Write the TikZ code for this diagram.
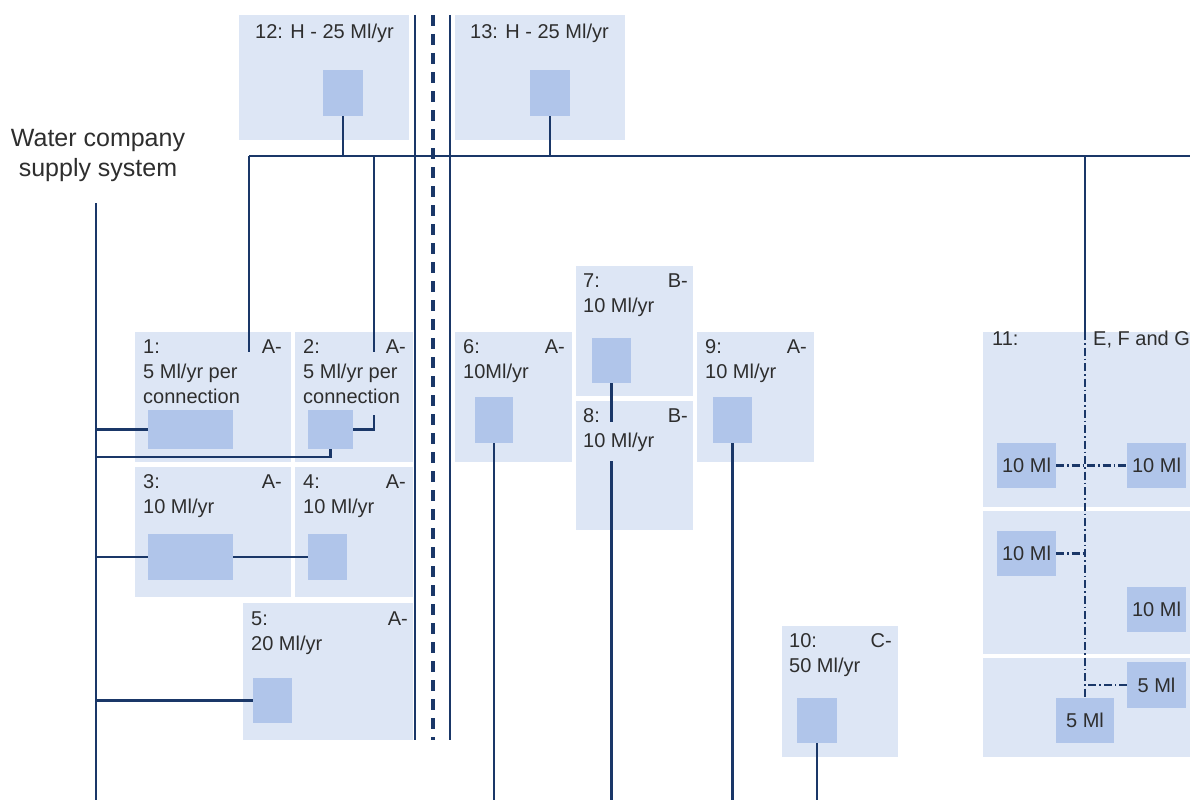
\documentclass[tikz,border=0pt]{standalone}
\usepackage{fontspec}
\setmainfont{Liberation Sans}
\definecolor{panelfill}{HTML}{DDE6F5}
\definecolor{tankfill}{HTML}{B0C5EA}
\definecolor{pipecol}{HTML}{1A3768}
\definecolor{txtcol}{HTML}{2E2E2E}
\begin{document}
\begin{tikzpicture}[x=1pt, y=-1pt,
  panel/.style={fill=panelfill, anchor=north west, inner sep=0pt, outer sep=0pt},
  tank/.style={fill=tankfill, inner sep=0pt, outer sep=0pt, text=txtcol, font=\fontsize{20}{24}\selectfont},
  num/.style={anchor=base west, inner sep=0pt, text=txtcol, font=\fontsize{20}{25}\selectfont},
  cls/.style={anchor=base east, inner sep=0pt, text=txtcol, font=\fontsize{20}{25}\selectfont},
  body/.style={anchor=north west, align=left, inner sep=0pt, text=txtcol, font=\fontsize{20}{25}\selectfont},
  pipe/.style={draw=pipecol, line width=2.4pt},
  dashpipe/.style={pipe, line width=2.2pt, dash pattern=on 8pt off 3pt on 1.5pt off 3pt},
  wall/.style={draw=pipecol, line width=2.5pt}]
\useasboundingbox (0,0) rectangle (1190,800);
\clip (0,0) rectangle (1190,800);

% panels
\node[panel, minimum width=170pt, minimum height=125pt] (p12) at (239,15) {};
\node[panel, minimum width=170pt, minimum height=125pt] (p13) at (455,15) {};
\node[panel, minimum width=156pt, minimum height=130pt] (p1) at (135,332) {};
\node[panel, minimum width=118pt, minimum height=130pt] (p2) at (295,332) {};
\node[panel, minimum width=156pt, minimum height=130pt] (p3) at (135,467) {};
\node[panel, minimum width=118pt, minimum height=130pt] (p4) at (295,467) {};
\node[panel, minimum width=170pt, minimum height=137pt] (p5) at (243,603) {};
\node[panel, minimum width=117pt, minimum height=130pt] (p6) at (455,332) {};
\node[panel, minimum width=117pt, minimum height=130pt] (p7) at (576,266) {};
\node[panel, minimum width=117pt, minimum height=129pt] (p8) at (576,401) {};
\node[panel, minimum width=117pt, minimum height=130pt] (p9) at (697,332) {};
\node[panel, minimum width=116pt, minimum height=131pt] (p10) at (782,626) {};
\node[panel, minimum width=220pt, minimum height=175pt] (p11a) at (983,332) {};
\node[panel, minimum width=220pt, minimum height=143pt] (p11b) at (983,511) {};
\node[panel, minimum width=220pt, minimum height=99pt] (p11c) at (983,658) {};

% panel texts
\node[num] (n12) at (255,38) {12: H - 25 Ml/yr};
\node[num] (n13) at (470,38) {13: H - 25 Ml/yr};
\node[num] (n1) at (143,353) {1:};  \node[cls] (c1) at (282,353) {A-};
\node[body] (b1) at (143,363.4) {5 Ml/yr per\\connection};
\node[num] (n2) at (303,353) {2:};  \node[cls] (c2) at (406,353) {A-};
\node[body] (b2) at (303,363.4) {5 Ml/yr per\\connection};
\node[num] (n3) at (143,488) {3:};  \node[cls] (c3) at (282,488) {A-};
\node[body] (b3) at (143,498.4) {10 Ml/yr};
\node[num] (n4) at (303,488) {4:};  \node[cls] (c4) at (406,488) {A-};
\node[body] (b4) at (303,498.4) {10 Ml/yr};
\node[num] (n5) at (251,625) {5:};  \node[cls] (c5) at (408,625) {A-};
\node[body] (b5) at (251,635.4) {20 Ml/yr};
\node[num] (n6) at (463,353) {6:};  \node[cls] (c6) at (565,353) {A-};
\node[body] (b6) at (463,363.4) {10Ml/yr};
\node[num] (n7) at (583,287) {7:};  \node[cls] (c7) at (688,287) {B-};
\node[body] (b7) at (583,297.4) {10 Ml/yr};
\node[num] (n8) at (583,422) {8:};  \node[cls] (c8) at (688,422) {B-};
\node[body] (b8) at (583,432.4) {10 Ml/yr};
\node[num] (n9) at (705,353) {9:};  \node[cls] (c9) at (807,353) {A-};
\node[body] (b9) at (705,363.4) {10 Ml/yr};
\node[num] (n10) at (789,647) {10:}; \node[cls] (c10) at (892,647) {C-};
\node[body] (b10) at (789,657.4) {50 Ml/yr};
\node[num] (n11) at (992,345) {11:};
\node[num] (c11) at (1093,345) {E, F and G};

% supply label
\node[anchor=north, align=center, inner sep=0pt, text=txtcol, font=\fontsize{25}{30}\selectfont] (src) at (98,129) {Water company\\supply system};

% tanks
\node[tank, minimum width=40pt, minimum height=46pt] (t12) at (343,93) {};
\node[tank, minimum width=40pt, minimum height=46pt] (t13) at (550,93) {};
\node[tank, minimum width=85pt, minimum height=39pt] (t1) at (190.5,429.5) {};
\node[tank, minimum width=45pt, minimum height=39pt] (t2) at (330.5,429.5) {};
\node[tank, minimum width=85pt, minimum height=46pt] (t3) at (190.5,557) {};
\node[tank, minimum width=39pt, minimum height=46pt] (t4) at (327.5,557) {};
\node[tank, minimum width=39pt, minimum height=45pt] (t5) at (272.5,700.5) {};
\node[tank, minimum width=38pt, minimum height=46pt] (t6) at (494,420) {};
\node[tank, minimum width=39pt, minimum height=45pt] (t7) at (611.5,360.5) {};
\node[tank, minimum width=39pt, minimum height=46pt] (t9) at (732.5,420) {};
\node[tank, minimum width=40pt, minimum height=45pt] (t10) at (817,720.5) {};
\node[tank, minimum width=59pt, minimum height=45pt] (t11a) at (1026.5,465.5) {10 Ml};
\node[tank, minimum width=59pt, minimum height=45pt] (t11b) at (1156.5,465.5) {10 Ml};
\node[tank, minimum width=59pt, minimum height=45pt] (t11c) at (1026.5,553.5) {10 Ml};
\node[tank, minimum width=59pt, minimum height=45pt] (t11d) at (1156.5,609.5) {10 Ml};
\node[tank, minimum width=59pt, minimum height=46pt] (t11e) at (1156.5,685) {5 Ml};
\node[tank, minimum width=58pt, minimum height=45pt] (t11f) at (1085,720.5) {5 Ml};

% pipe ends
\coordinate (srctop) at (96,203);
\coordinate (srcend) at (96,800);
\coordinate (hl) at (249,156);
\coordinate (hr) at (1190,156);
\coordinate (d1) at (249,352);
\coordinate (d2) at (374,352);
\coordinate (d2b) at (374,415);
\coordinate (j2) at (96,457);
\coordinate (d7a) at (611.5,422);
\coordinate (d7b) at (611.5,461);
\coordinate (v11) at (1085,156);
\coordinate (w1t) at (415,15);  \coordinate (w1b) at (415,740);
\coordinate (w2t) at (433,15);  \coordinate (w2b) at (433,740);
\coordinate (w3t) at (450,15);  \coordinate (w3b) at (450,740);

% boundary walls
\draw[wall] (w1t) -- (w1b);
\draw[wall] (w3t) -- (w3b);
\draw[draw=pipecol, line width=4pt, dash pattern=on 11pt off 8pt] (w2t) -- (w2b);

% pipes
\draw[pipe] (srctop) -- (srcend);
\draw[pipe] (hl) -- (hr);
\draw[pipe] (t12.south) -- (t12.south |- hl);
\draw[pipe] (t13.south) -- (t13.south |- hl);
\draw[pipe] (hl) -- (d1);
\draw[pipe] (d2 |- hl) -- (d2);
\draw[pipe] (t1.west -| srctop) -- (t1.west);
\draw[pipe] (t2.east) -| (d2b);
\draw[pipe] (t2.south) |- (j2);
\draw[pipe] (t3.west -| srctop) -- (t3.west);
\draw[pipe] (t3.east) -- (t4.west);
\draw[pipe] (t5.west -| srctop) -- (t5.west);
\draw[pipe] (t6.south) -- (t6.south |- srcend);
\draw[pipe] (t7.south) -- (d7a);
\draw[pipe] (d7b) -- (d7b |- srcend);
\draw[pipe] (t9.south) -- (t9.south |- srcend);
\draw[pipe] (t10.south) -- (t10.south |- srcend);
\draw[pipe] (v11) -- (v11 |- p11a.north);
\draw[dashpipe] (v11 |- p11a.north) -- (t11f.north);
\draw[dashpipe] (t11a.east) -- (t11b.west);
\draw[dashpipe] (t11c.east) -- (t11c.east -| v11);
\draw[dashpipe] (t11e.west) -- (t11e.west -| v11);
\end{tikzpicture}
\end{document}
